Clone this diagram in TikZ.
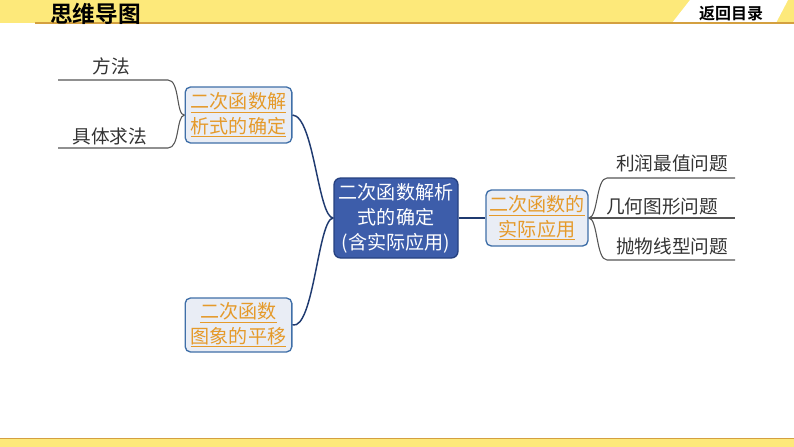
\documentclass[tikz,border=0pt]{standalone}
\usepackage{fontspec}
\setmainfont{Noto Sans CJK SC}
\newfontfamily\cjkbold{Noto Sans CJK SC Bold}
\definecolor{hdryellow}{HTML}{FDE97A}
\definecolor{hdrline}{HTML}{D4A040}
\definecolor{boxfill}{HTML}{E9EDF5}
\definecolor{boxline}{HTML}{3F6FA8}
\definecolor{ctrfill}{HTML}{3D5DAA}
\definecolor{ctrline}{HTML}{25407F}
\definecolor{linknavy}{HTML}{1F3A70}
\definecolor{leafline}{HTML}{555555}
\definecolor{orangetxt}{HTML}{E59A2A}
\newcommand{\oul}[1]{\underline{#1}}
\tikzset{
  subbox/.style={draw=boxline, line width=1pt, fill=boxfill, rounded corners=4pt,
    inner sep=0pt, align=center, text=orangetxt, font=\fontsize{14.3}{18.5}\selectfont},
  ctrbox/.style={draw=ctrline, line width=1pt, fill=ctrfill, rounded corners=5pt,
    inner sep=0pt, align=center, text=white, font=\fontsize{14.3}{18.8}\selectfont},
  leaftext/.style={text=black!80, font=\fontsize{14}{16}\selectfont, inner sep=0pt},
  navylink/.style={draw=linknavy, line width=1.1pt},
  leaflink/.style={draw=leafline, line width=0.8pt},
}
\begin{document}
\begin{tikzpicture}[x=0.75pt,y=-0.75pt]
\useasboundingbox (0,0) rectangle (794,447);
% header
\fill[hdryellow] (0,0) rectangle (794,23);
\fill[white] (672,23) -- (690,0) -- (788,0) -- (776,23) -- cycle;
\draw[hdrline, line width=1.2pt] (35,23) -- (794,23);
\node[font=\cjkbold\fontsize{17}{17}\selectfont, anchor=west, inner sep=0pt] (title) at (50,13.5) {思维导图};
\node[font=\cjkbold\fontsize{12}{12}\selectfont, inner sep=0pt] (back) at (731,13.5) {返回目录};
% footer
\fill[hdryellow] (0,439) rectangle (794,447);
\draw[hdrline, line width=1.2pt] (0,438.5) -- (794,438.5);
% nodes
\node[ctrbox, minimum width=93pt, minimum height=60pt] (ctr) at (396,218)
  {二次函数解析\\式的确定\\(含实际应用)};
\node[subbox, minimum width=80pt, minimum height=42pt] (fit) at (238.5,115)
  {\oul{二次函数解}\\\oul{析式的确定}};
\node[subbox, minimum width=80pt, minimum height=40.5pt] (shift) at (238.5,325)
  {\oul{二次函数}\\\oul{图象的平移}};
\node[subbox, minimum width=76.5pt, minimum height=42pt] (app) at (537,218)
  {\oul{二次函数的}\\\oul{实际应用}};
% leaves
\node[leaftext] (m1) at (111,66) {方法};
\node[leaftext] (m2) at (110,136) {具体求法};
\node[leaftext] (r1) at (672,163) {利润最值问题};
\node[leaftext] (r2) at (662,206) {几何图形问题};
\node[leaftext] (r3) at (672,246) {抛物线型问题};
\coordinate (m1a) at (58,80);
\coordinate (m1b) at (168,80);
\coordinate (m2a) at (58,148);
\coordinate (m2b) at (168,148);
\coordinate (r1a) at (607,178);
\coordinate (r1b) at (735,178);
\coordinate (r2b) at (735,218);
\coordinate (r3a) at (607,260);
\coordinate (r3b) at (735,260);
% links
\draw[navylink] (ctr.west) .. controls (318,218) and (314,116) .. (fit.east);
\draw[navylink] (ctr.west) .. controls (318,218) and (314,330) .. (shift.east);
\draw[navylink] (ctr.east) -- (app.west);
\draw[leaflink] (fit.west) .. controls (176,116) and (180,80) .. (m1b) -- (m1a);
\draw[leaflink] (fit.west) .. controls (176,116) and (180,148) .. (m2b) -- (m2a);
\draw[leaflink] (app.east) .. controls (598,218) and (596,178) .. (r1a) -- (r1b);
\draw[leaflink] (app.east) -- (r2b);
\draw[leaflink] (app.east) .. controls (598,218) and (596,260) .. (r3a) -- (r3b);
\end{tikzpicture}
\end{document}
